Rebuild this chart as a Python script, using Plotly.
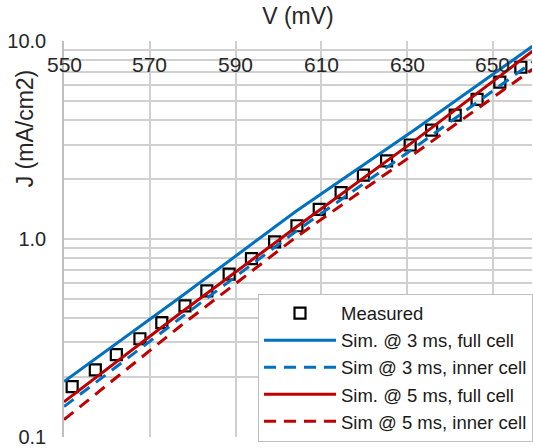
import plotly.graph_objects as go

# Measured data (V in mV, J in mA/cm2)
meas_v = [551.9, 557.3, 562.2, 567.7, 572.8, 578.2, 583.3, 588.5, 593.7, 599.1, 604.3,
          609.5, 614.6, 619.8, 625.2, 630.7, 635.7, 641.2, 646.3, 651.6, 656.5]
meas_j = [0.179, 0.218, 0.260, 0.313, 0.378, 0.459, 0.547, 0.664, 0.796, 0.966, 1.167,
          1.412, 1.716, 2.102, 2.483, 2.989, 3.557, 4.235, 5.08, 6.21, 7.39]

# Simulated curves
sim_v = [550, 577, 604, 632, 659.2]
sim3_full = [0.190, 0.506, 1.376, 3.603, 9.44]
sim3_inner = [0.142, 0.396, 1.091, 2.924, 7.84]
sim5_full = [0.150, 0.420, 1.143, 3.171, 8.91]
sim5_inner = [0.122, 0.361, 1.018, 2.728, 7.22]

x_ticks = [550, 570, 590, 610, 630, 650]
x_ticktext = ["550", "570", "590", "610", "630", "650"]
y_ticks = [0.1, 1, 10]
y_ticktext = ["0.1", "1.0", "10.0"]

BLUE = "#0070C0"
RED = "#C00000"
FONT = "Liberation Sans, Arial, sans-serif"
TXT = "#262626"

fig = go.Figure()
fig.add_trace(go.Scatter(x=meas_v, y=meas_j, mode="markers", name="Measured",
                         marker=dict(symbol="square-open", size=11, color="black",
                                     line=dict(width=2.2, color="black"))))
fig.add_trace(go.Scatter(x=sim_v, y=sim3_full, mode="lines", name="Sim. @ 3 ms, full cell",
                         line=dict(color=BLUE, width=3)))
fig.add_trace(go.Scatter(x=sim_v, y=sim3_inner, mode="lines", name="Sim @ 3 ms, inner cell",
                         line=dict(color=BLUE, width=3, dash="12px,8px")))
fig.add_trace(go.Scatter(x=sim_v, y=sim5_full, mode="lines", name="Sim. @ 5 ms, full cell",
                         line=dict(color=RED, width=3)))
fig.add_trace(go.Scatter(x=sim_v, y=sim5_inner, mode="lines", name="Sim @ 5 ms, inner cell",
                         line=dict(color=RED, width=3, dash="12px,8px")))

minor_vals = [0.2, 0.3, 0.4, 0.5, 0.6, 0.7, 0.8, 0.9, 2, 3, 4, 5, 6, 7, 8, 9]

fig.update_layout(
    width=533, height=448,
    margin=dict(l=64, r=0, t=41, b=11),
    paper_bgcolor="white", plot_bgcolor="white",
    font=dict(family=FONT, size=20, color=TXT),
    showlegend=True,
    legend=dict(x=0.4147, y=0.362, xanchor="left", yanchor="top",
                bgcolor="white", bordercolor="#bfbfbf", borderwidth=1,
                font=dict(size=18.5, color="#1a1a1a"), itemwidth=72,
                tracegroupgap=0),
    xaxis=dict(side="top", range=[550, 659.1], tickvals=x_ticks,
               showticklabels=False, ticks="", showgrid=True,
               gridcolor="#d0d0d0", gridwidth=1.5, zeroline=False, showline=False,
               title=dict(text="V (mV)", font=dict(size=23), standoff=8)),
    yaxis=dict(type="log", range=[-1.0015, 1.0015], tickvals=y_ticks,
               ticktext=y_ticktext, ticks="", showgrid=True,
               gridcolor="#d0d0d0", gridwidth=1.5, zeroline=False,
               showline=True, linecolor="#bfbfbf", linewidth=1.5,
               tickfont=dict(size=20), ticklabelstandoff=12,
               minor=dict(tickvals=minor_vals, showgrid=True, gridcolor="#d0d0d0",
                          gridwidth=1.5, ticks="")),
)

for v, t in zip(x_ticks, x_ticktext):
    fig.add_annotation(text=t, x=v, xref="x", y=0.94, yref="paper",
                       xanchor="center", yanchor="middle", showarrow=False,
                       font=dict(size=21, family=FONT, color=TXT))

fig.add_annotation(text="J (mA/cm2)", xref="paper", yref="paper",
                   x=-0.083, y=0.78, xanchor="center", yanchor="middle",
                   textangle=-90, showarrow=False, font=dict(size=23, family=FONT, color=TXT))

fig.write_html("out.html")
